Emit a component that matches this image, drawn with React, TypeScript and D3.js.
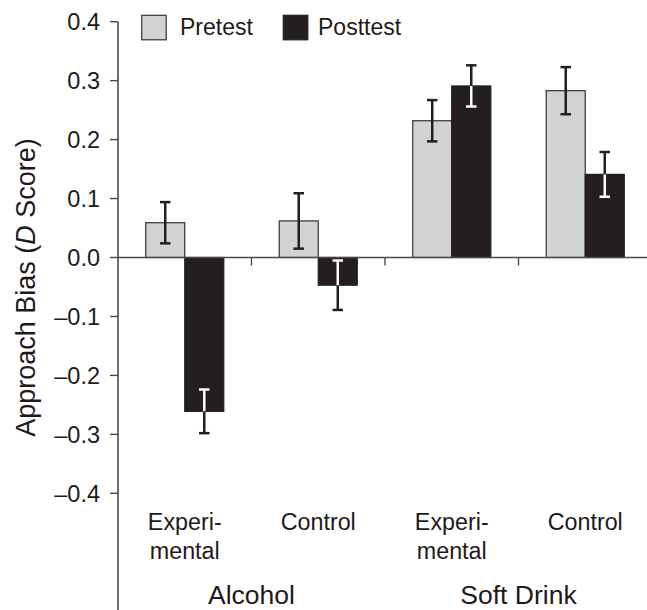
import React from "react";
import * as d3 from "d3";

const categories = ["Experi-|mental", "Control", "Experi-|mental", "Control"];
const groups = ["Alcohol", "Soft Drink"];
const series = ["Pretest", "Posttest"];
const pretest = [0.059, 0.062, 0.232, 0.283];
const posttest = [-0.261, -0.047, 0.291, 0.141];
const pretestErr = [0.035, 0.047, 0.035, 0.04];
const posttestErr = [0.037, 0.042, 0.035, 0.038];
const yTicks = [-0.4, -0.3, -0.2, -0.1, 0.0, 0.1, 0.2, 0.3, 0.4];

const W = 647;
const H = 610;
const FONT = "'Liberation Sans', Arial, Helvetica, sans-serif";
const PRE_FILL = "#d1d3d4";
const POST_FILL = "#231f20";
const AXIS = "#4a4a4a";
const TEXT = "#1e1a1b";

export default function App() {
  const y = d3.scaleLinear().domain([-0.4, 0.4]).range([493.3, 21.7]);
  const keys = categories.map((_, i) => String(i));
  const x0 = d3.scaleBand<string>().domain(keys).range([118, 652]).paddingInner(0).paddingOuter(0);
  const x1 = d3.scaleBand<string>().domain(series).range([0, x0.bandwidth()]).paddingInner(0).paddingOuter(0.71);
  const fmt = (v: number) => d3.format(".1f")(v).replace("−", "–").replace("-", "–");
  const y0 = y(0);
  const capW = 10.5;

  const bars: any[] = [];
  categories.forEach((_, i) => {
    series.forEach((s) => {
      const v = s === "Pretest" ? pretest[i] : posttest[i];
      const e = s === "Pretest" ? pretestErr[i] : posttestErr[i];
      const bx = (x0(String(i)) as number) + (x1(s) as number);
      bars.push({ i, s, v, e, bx, bw: x1.bandwidth() });
    });
  });

  const errorBar = (b: any, color: string, key: string, clip?: string) => {
    const cx = b.bx + b.bw / 2;
    const yt = y(b.v + b.e);
    const yb = y(b.v - b.e);
    return (
      <g key={key} stroke={color} strokeWidth={2.5} clipPath={clip}>
        <line x1={cx} x2={cx} y1={yt} y2={yb} />
        <line x1={cx - capW / 2} x2={cx + capW / 2} y1={yt} y2={yt} />
        <line x1={cx - capW / 2} x2={cx + capW / 2} y1={yb} y2={yb} />
      </g>
    );
  };

  return (
    <svg width={W} height={H} style={{ position: "absolute", left: 0, top: 0, background: "#fff" }} fontFamily={FONT}>
      <defs>
        {bars.map((b, k) => (
          <clipPath id={`clip${k}`} key={k}>
            <rect x={b.bx} y={Math.min(y(b.v), y0)} width={b.bw} height={Math.abs(y(b.v) - y0)} />
          </clipPath>
        ))}
      </defs>

      {/* bars */}
      {bars.map((b, k) => (
        <rect
          key={`b${k}`}
          x={b.bx}
          y={Math.min(y(b.v), y0)}
          width={b.bw}
          height={Math.abs(y(b.v) - y0)}
          fill={b.s === "Pretest" ? PRE_FILL : POST_FILL}
          stroke={b.s === "Pretest" ? "#333" : POST_FILL}
          strokeWidth={1.2}
        />
      ))}

      {/* zero line */}
      <line x1={118} x2={W} y1={y0} y2={y0} stroke={AXIS} strokeWidth={1.6} />
      {[1, 2, 3].map((i) => (
        <line key={`st${i}`} x1={x0(String(i)) as number} x2={x0(String(i)) as number} y1={y0} y2={y0 + 8} stroke={AXIS} strokeWidth={1.4} />
      ))}

      {/* error bars */}
      {bars.map((b, k) => errorBar(b, "#231f20", `e${k}`))}
      {bars.map((b, k) => (b.s === "Posttest" ? errorBar(b, "#ffffff", `w${k}`, `url(#clip${k})`) : null))}

      {/* y axis */}
      <line x1={118} x2={118} y1={y(0.4)} y2={H} stroke={AXIS} strokeWidth={1.6} />
      {yTicks.map((t) => (
        <g key={`t${t}`}>
          <line x1={110} x2={118} y1={y(t)} y2={y(t)} stroke={AXIS} strokeWidth={1.4} />
          <text x={100} y={y(t)} dy="0.36em" textAnchor="end" fontSize={23.5} fill={TEXT}>
            {fmt(t)}
          </text>
        </g>
      ))}

      {/* y title */}
      <text transform={`translate(35,287.5) rotate(-90)`} textAnchor="middle" fontSize={27} fill={TEXT}>
        Approach Bias (<tspan fontStyle="italic">D</tspan> Score)
      </text>

      {/* category labels */}
      {categories.map((c, i) => {
        const cx = (x0(String(i)) as number) + x0.bandwidth() / 2;
        const lines = c.split("|");
        return (
          <text key={`c${i}`} x={cx} y={530} textAnchor="middle" fontSize={23.3} fill={TEXT}>
            {lines.map((l, j) => (
              <tspan key={j} x={cx} dy={j === 0 ? 0 : 29}>
                {l}
              </tspan>
            ))}
          </text>
        );
      })}

      {/* group labels */}
      {groups.map((g, gi) => {
        const cx = x0(String(gi * 2 + 1)) as number;
        return (
          <text key={g} x={cx} y={603.5} textAnchor="middle" fontSize={26.5} fill={TEXT}>
            {g}
          </text>
        );
      })}

      {/* legend */}
      <rect x={141.7} y={15.3} width={24.5} height={24.5} fill={PRE_FILL} stroke="#333" strokeWidth={1.2} />
      <text x={180} y={34.5} fontSize={23} fill={TEXT}>
        {series[0]}
      </text>
      <rect x={283.3} y={15.3} width={24.5} height={24.5} fill={POST_FILL} stroke={POST_FILL} strokeWidth={1.2} />
      <text x={318} y={34.5} fontSize={23} fill={TEXT}>
        {series[1]}
      </text>
    </svg>
  );
}
